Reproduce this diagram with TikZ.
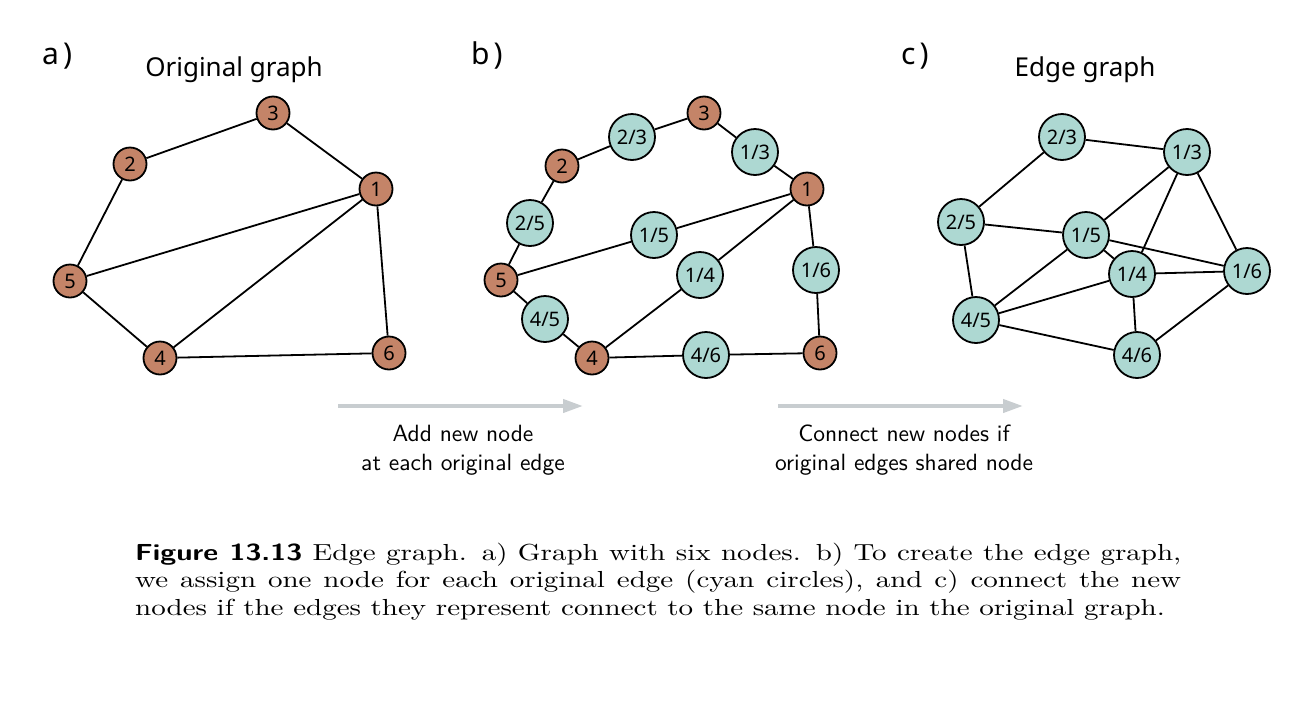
\documentclass[tikz,border=0pt]{standalone}
\usepackage{fontspec}
\usepackage{graphicx}
\newfontfamily\noto{Noto Sans}
\newfontfamily\capfont{lmroman10-regular.otf}
\newfontfamily\capbold{lmsans10-bold.otf}
\newfontfamily\notefont{lmsans10-regular.otf}
\usetikzlibrary{arrows.meta}
\definecolor{brownc}{RGB}{196,132,104}
\definecolor{cyanc}{RGB}{173,216,210}
\definecolor{arrowgray}{RGB}{200,205,208}
\begin{document}
\begin{tikzpicture}[x=1pt,y=-1pt,
  orig/.style={circle, draw=black, line width=1.8pt, fill=brownc, minimum size=33pt, inner sep=0pt, font=\noto\fontsize{20}{20}\selectfont},
  newn/.style={circle, draw=black, line width=1.8pt, fill=cyanc, minimum size=46pt, inner sep=0pt, font=\noto\fontsize{20}{20}\selectfont},
  edge/.style={line width=1.8pt, draw=black},
  panel/.style={font=\noto\fontsize{30}{30}\selectfont, anchor=base west, inner sep=0pt},
  title/.style={font=\noto\fontsize{26}{26}\selectfont, anchor=base, inner sep=0pt},
  step arrow/.style={line width=4pt, draw=arrowgray, -{Triangle[length=20pt,width=13pt]}},
  note/.style={font=\notefont\fontsize{23.5}{29}\selectfont, align=center, inner sep=0pt, anchor=base}
]
\useasboundingbox (0,0) rectangle (1290,710);

% panel labels
\node[panel] (la) at (42,64) {a\kern4pt)};
\node[panel] (lb) at (471,64) {b\kern4pt)};
\node[panel] (lc) at (901,64) {c\kern4pt)};
\node[title] (ta) at (234,76) {Original graph};
\node[title] (tc) at (1085,76) {Edge graph};

% panel a
\node[orig] (a1) at (376,189) {1};
\node[orig] (a2) at (130,164) {2};
\node[orig] (a3) at (273,113) {3};
\node[orig] (a4) at (160,358) {4};
\node[orig] (a5) at (70,281) {5};
\node[orig] (a6) at (389,353) {6};
\draw[edge] (a2) -- (a3);
\draw[edge] (a3) -- (a1);
\draw[edge] (a2) -- (a5);
\draw[edge] (a5) -- (a1);
\draw[edge] (a4) -- (a1);
\draw[edge] (a1) -- (a6);
\draw[edge] (a5) -- (a4);
\draw[edge] (a4) -- (a6);

% panel b
\node[orig] (b1) at (807,189) {1};
\node[orig] (b2) at (562,166) {2};
\node[orig] (b3) at (704,113) {3};
\node[orig] (b4) at (592,358) {4};
\node[orig] (b5) at (501,280) {5};
\node[orig] (b6) at (820,353) {6};
\node[newn] (b23) at (632,137) {2/3};
\node[newn] (b13) at (755,152) {1/3};
\node[newn] (b25) at (530,223) {2/5};
\node[newn] (b15) at (654,235) {1/5};
\node[newn] (b14) at (700,275) {1/4};
\node[newn] (b16) at (816,270) {1/6};
\node[newn] (b45) at (545,319) {4/5};
\node[newn] (b46) at (706,355) {4/6};
\draw[edge] (b3) -- (b23);
\draw[edge] (b23) -- (b2);
\draw[edge] (b3) -- (b13);
\draw[edge] (b13) -- (b1);
\draw[edge] (b2) -- (b25);
\draw[edge] (b25) -- (b5);
\draw[edge] (b5) -- (b15);
\draw[edge] (b15) -- (b1);
\draw[edge] (b1) -- (b14);
\draw[edge] (b14) -- (b4);
\draw[edge] (b1) -- (b16);
\draw[edge] (b16) -- (b6);
\draw[edge] (b5) -- (b45);
\draw[edge] (b45) -- (b4);
\draw[edge] (b4) -- (b46);
\draw[edge] (b46) -- (b6);

% panel c
\node[newn] (c23) at (1062,137) {2/3};
\node[newn] (c13) at (1187,152) {1/3};
\node[newn] (c25) at (961,222) {2/5};
\node[newn] (c15) at (1086,235) {1/5};
\node[newn] (c14) at (1132,274) {1/4};
\node[newn] (c16) at (1247,271) {1/6};
\node[newn] (c45) at (976,320) {4/5};
\node[newn] (c46) at (1137,355) {4/6};
\draw[edge] (c23) -- (c13);
\draw[edge] (c23) -- (c25);
\draw[edge] (c25) -- (c15);
\draw[edge] (c25) -- (c45);
\draw[edge] (c13) -- (c15);
\draw[edge] (c13) -- (c14);
\draw[edge] (c13) -- (c16);
\draw[edge] (c15) -- (c14);
\draw[edge] (c15) -- (c16);
\draw[edge] (c15) -- (c45);
\draw[edge] (c14) -- (c16);
\draw[edge] (c14) -- (c45);
\draw[edge] (c14) -- (c46);
\draw[edge] (c45) -- (c46);
\draw[edge] (c46) -- (c16);

% step arrows
\coordinate (s1) at (338,406);
\coordinate (e1) at (583,406);
\coordinate (s2) at (778,406);
\coordinate (e2) at (1023,406);
\draw[step arrow] (s1) -- (e1);
\draw[step arrow] (s2) -- (e2);
\node[note] (n1) at (463,470) {Add new node\\at each original edge};
\node[note] (n2) at (904,470) {Connect new nodes if\\original edges shared node};

% caption
\node[anchor=base west, inner sep=0pt] (cap) at (135,560)
  {\scalebox{1}[0.8]{\parbox[t]{1046pt}{\capfont\fontsize{29}{34.4}\selectfont
   {\capbold Figure 13.13} Edge graph. a) Graph with six nodes. b) To create the edge graph,\linebreak
   we assign one node for each original edge (cyan circles), and c) connect the new\linebreak
   nodes if the edges they represent connect to the same node in the original graph.}}};
\end{tikzpicture}
\end{document}
